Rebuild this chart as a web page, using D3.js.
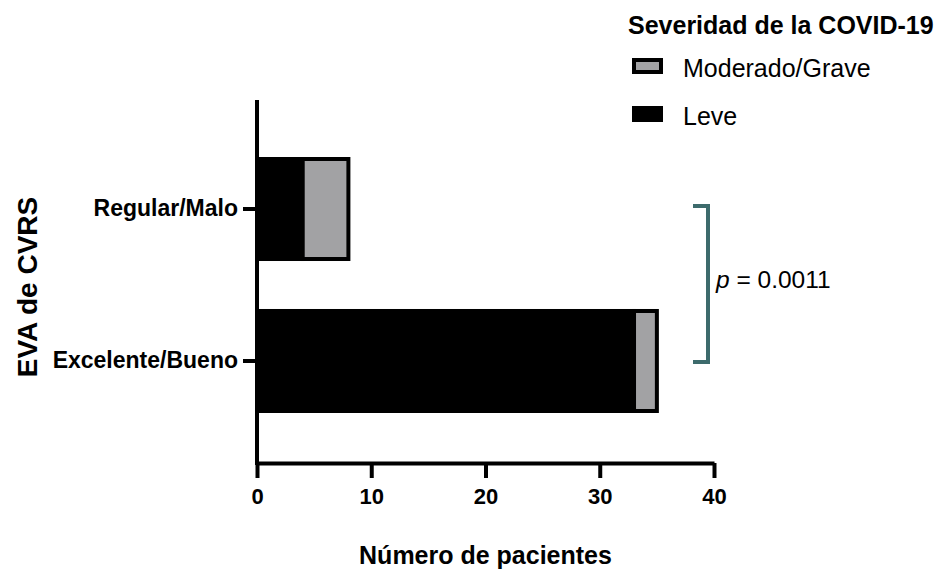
<!DOCTYPE html>
<html>
<head>
<meta charset="utf-8">
<script src="https://cdn.jsdelivr.net/npm/d3@7"></script>
<style>
  html, body { margin: 0; padding: 0; background: #fff; }
  svg { display: block; font-family: "Liberation Sans", Arial, sans-serif; }
</style>
</head>
<body>
<svg id="chart" width="938" height="571"></svg>
<script>
// ---- data ----
const categories = ["Regular/Malo", "Excelente/Bueno"];
const leve = [4, 33];
const moderado = [4, 2];
const seriesKeys = ["Leve", "Moderado/Grave"];
const legendOrder = ["Moderado/Grave", "Leve"];
const xTicks = [0, 10, 20, 30, 40];
const xTitle = "Número de pacientes";
const yTitle = "EVA de CVRS";
const legendTitle = "Severidad de la COVID-19";
const pValue = "0.0011";

// ---- build table ----
const table = categories.map((c, i) => ({ cat: c, "Leve": leve[i], "Moderado/Grave": moderado[i] }));

const svg = d3.select("#chart");
const colors = d3.scaleOrdinal(seriesKeys, ["#000000", "#a2a2a4"]);

const x = d3.scaleLinear([0, 40], [257, 714]);
const y = d3.scaleBand(categories, [159, 411]).paddingInner(0.342).paddingOuter(0);

const axisY0 = 100, axisY1 = 463;

// bars
const stack = d3.stack().keys(seriesKeys)(table);
svg.append("g").selectAll("g").data(stack).join("g")
  .attr("fill", d => colors(d.key))
  .selectAll("rect").data(d => d).join("rect")
  .attr("x", d => x(d[0]))
  .attr("width", d => x(d[1]) - x(d[0]))
  .attr("y", d => y(d.data.cat))
  .attr("height", y.bandwidth())
  .attr("stroke", "#000")
  .attr("stroke-width", 4);

// x axis
const gx = svg.append("g").attr("transform", `translate(0,${axisY1})`)
  .call(d3.axisBottom(x).tickValues(xTicks).tickSize(15).tickSizeOuter(0).tickPadding(10));
gx.select(".domain").attr("stroke-width", 4);
gx.selectAll(".tick line").attr("stroke-width", 4);
gx.selectAll(".tick text").attr("font-size", 22).attr("font-weight", "bold").attr("fill", "#000")
  .attr("font-family", "Liberation Sans, Arial, sans-serif");

// y axis
const gy = svg.append("g").attr("transform", `translate(${x(0)},0)`)
  .call(d3.axisLeft(y).tickSize(14).tickPadding(5));
gy.select(".domain").remove();
gy.selectAll(".tick line").attr("stroke-width", 4);
gy.selectAll(".tick text").attr("font-size", 23).attr("font-weight", "bold").attr("fill", "#000")
  .attr("font-family", "Liberation Sans, Arial, sans-serif");
svg.append("line").attr("x1", x(0)).attr("x2", x(0)).attr("y1", axisY0).attr("y2", axisY1 + 2)
  .attr("stroke", "#000").attr("stroke-width", 4);

// axis titles
svg.append("text").attr("x", (x(0) + x(40)) / 2).attr("y", 564).attr("text-anchor", "middle")
  .attr("font-size", 25).attr("font-weight", "bold").text(xTitle);
svg.append("text").attr("transform", `translate(37,287) rotate(-90)`).attr("text-anchor", "middle")
  .attr("font-size", 28).attr("font-weight", "bold").text(yTitle);

// legend
svg.append("text").attr("x", 628).attr("y", 34).attr("font-size", 25).attr("font-weight", "bold").text(legendTitle);
const lg = svg.append("g").selectAll("g").data(legendOrder).join("g")
  .attr("transform", (d, i) => `translate(634,${60 + i * 48})`);
lg.append("rect").attr("width", 27).attr("height", 12).attr("fill", d => colors(d))
  .attr("stroke", "#000").attr("stroke-width", 4);
lg.append("text").attr("x", 49).attr("y", 17).attr("font-size", 25).text(d => d);

// significance bracket
const yTop = y(categories[0]) + y.bandwidth() / 2 - 3;
const yBot = y(categories[1]) + y.bandwidth() / 2 + 1;
const bx = 708, barm = 15;
svg.append("path")
  .attr("d", `M${bx - barm},${yTop}H${bx}V${yBot}H${bx - barm}`)
  .attr("fill", "none").attr("stroke", "#3d6b6c").attr("stroke-width", 4);
const pt = svg.append("text").attr("x", 716).attr("y", (yTop + yBot) / 2 + 4).attr("font-size", 24.5);
pt.append("tspan").attr("font-style", "italic").text("p");
pt.append("tspan").text(" = " + pValue);
</script>
</body>
</html>
